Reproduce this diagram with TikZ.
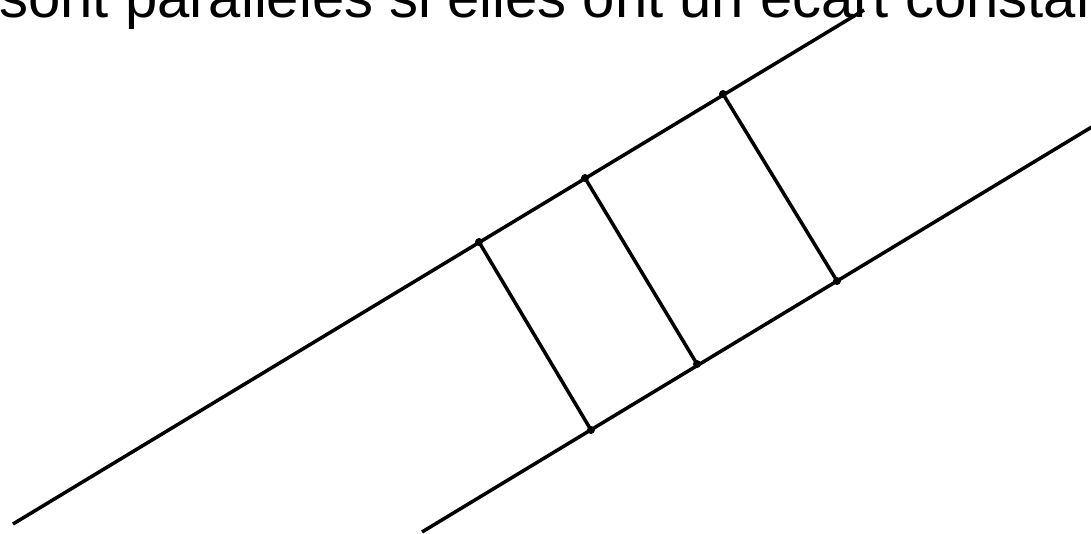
\documentclass[tikz,border=0pt]{standalone}
\usepackage{fontspec}
\setmainfont{Liberation Sans}
\begin{document}
\begin{tikzpicture}[x=0.5pt,y=-0.5pt,
  ln/.style={line width=1.75pt,black,line cap=butt},
  pt/.style={circle,fill=black,inner sep=0pt,minimum size=4pt}]
\useasboundingbox (0,0) rectangle (1091,534);
\clip (0,0) rectangle (1091,534);
\node[anchor=base west,inner sep=0pt,font=\fontsize{29pt}{34pt}\selectfont] (title) at (-1,18) {sont parallèles si elles ont un écart constant};
% end points of the two parallel lines
\coordinate (a0) at (13,524);
\coordinate (a1) at (864,10);
\coordinate (b0) at (422,532);
\coordinate (b1) at (1100,122);
% points on the lines
\node[pt] (p1) at (479,242) {};
\node[pt] (p2) at (585,178) {};
\node[pt] (p3) at (723,94) {};
\node[pt] (q1) at (591,430) {};
\node[pt] (q2) at (697,364) {};
\node[pt] (q3) at (837,281) {};
\draw[ln] (a0) -- (a1);
\draw[ln] (b0) -- (b1);
\draw[ln] (p1.center) -- (q1.center);
\draw[ln] (p2.center) -- (q2.center);
\draw[ln] (p3.center) -- (q3.center);
\end{tikzpicture}
\end{document}
